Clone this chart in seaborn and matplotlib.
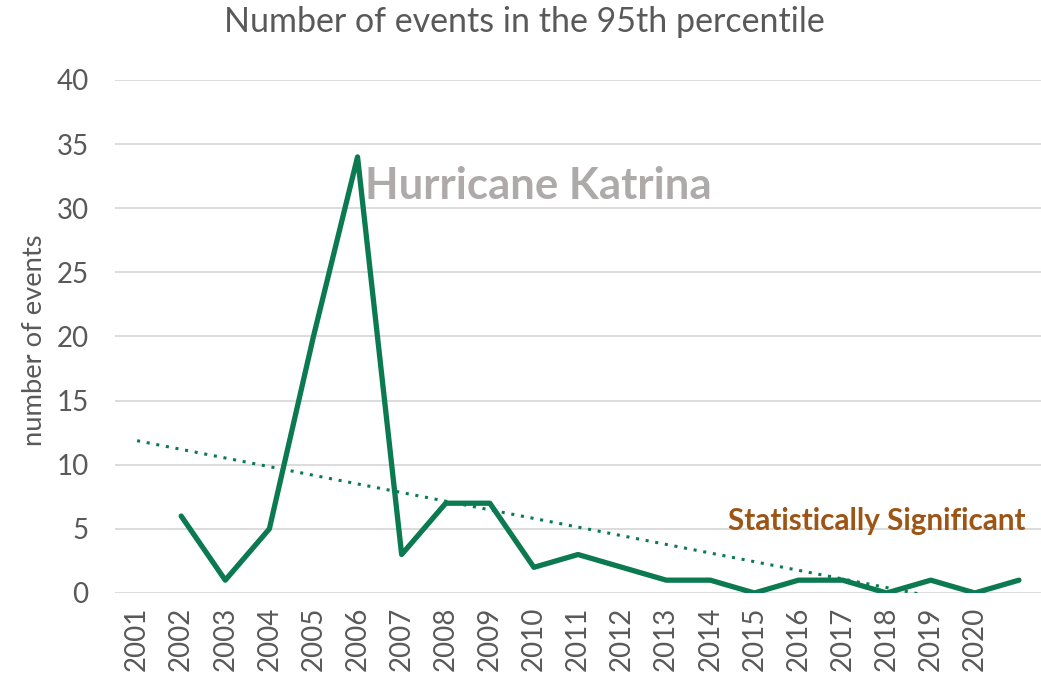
import numpy as np
import pandas as pd
import matplotlib
matplotlib.use("Agg")
import matplotlib.pyplot as plt
import seaborn as sns

# Category labels along the x axis and yearly event counts (first category has no value)
years = [str(y) for y in range(2001, 2021)] + [""]
events = [np.nan, 6, 1, 5, 20, 34, 3, 7, 7, 2, 3, 2, 1, 1, 0, 1, 1, 0, 1, 0, 1]
y_ticks = [0, 5, 10, 15, 20, 25, 30, 35, 40]

GREEN = "#0B7A50"
GREY_TXT = "#595959"

sns.set_theme(style="white")
plt.rcParams["font.family"] = ["Lato", "DejaVu Sans"]

df = pd.DataFrame({"pos": np.arange(len(years)), "events": events})

fig = plt.figure(figsize=(10.41, 6.75), dpi=100)
ax = fig.add_axes([0.1105, 0.1215, 0.8895, 0.76])

# horizontal gridlines
for v in y_ticks:
    ax.axhline(v, color="#D9D9D9", lw=1.3, zorder=0)

# linear trend fitted to the observed counts
valid = df.dropna()
slope, intercept = np.polyfit(valid["pos"], valid["events"], 1)
trend = pd.DataFrame({"pos": df["pos"], "trend": intercept + slope * df["pos"]})
sns.lineplot(data=trend, x="pos", y="trend", ax=ax, color=GREEN, lw=2.2,
             linestyle=(0, (1, 2.2)), zorder=2)

sns.lineplot(data=df, x="pos", y="events", ax=ax, color=GREEN, lw=3.8, zorder=3)

ax.set_xlim(-0.5, len(years) - 0.5)
ax.set_ylim(0, 40)
ax.set_yticks(y_ticks)
ax.set_yticklabels([str(v) for v in y_ticks])
ax.set_xticks(df["pos"])
ax.set_xticklabels(years, rotation=90)
ax.tick_params(axis="x", length=0, pad=10, labelsize=20, labelcolor=GREY_TXT)
ax.tick_params(axis="y", length=0, pad=19, labelsize=20, labelcolor=GREY_TXT)
for sp in ax.spines.values():
    sp.set_visible(False)
ax.set_xlabel("")
ax.set_ylabel("")

ax.text(5.16, 31.7, "Hurricane Katrina", fontsize=31.5, fontweight="bold",
        color="#AEAAAA", ha="left", va="center")
ax.text(13.4, 5.6, "Statistically Significant", fontsize=21.3, fontweight="bold",
        color="#9C5514", ha="left", va="center")

fig.text(0.504, 0.967, "Number of events in the 95th percentile", fontsize=24.5,
         color=GREY_TXT, ha="center", va="center")
fig.text(0.0336, 0.496, "number of events", fontsize=19.7, color=GREY_TXT,
         rotation=90, ha="center", va="center")

fig.savefig("out.png", dpi=100)
